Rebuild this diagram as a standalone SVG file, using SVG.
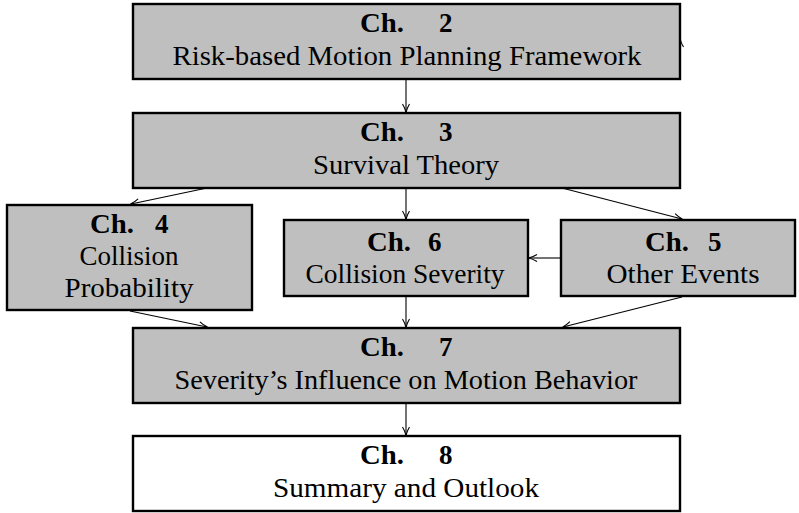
<svg xmlns="http://www.w3.org/2000/svg" width="799" height="513" viewBox="0 0 799 513">
<style>
.box{fill:#bfbfbf;stroke:#000;stroke-width:2.4}
.wbox{fill:#fff;stroke:#000;stroke-width:2.4}
text{font-family:"Liberation Serif","DejaVu Serif",serif;font-size:27px;fill:#000;text-anchor:middle}
.b{font-weight:bold;text-anchor:start}
.c line{stroke:#000;stroke-width:1.1;marker-end:url(#ah)}
</style>
<defs>
<marker id="ah" viewBox="0 0 10 10" refX="9" refY="5" markerWidth="10" markerHeight="10" markerUnits="userSpaceOnUse" orient="auto">
<path d="M1,1.5 Q5,4 9.5,5 Q5,6 1,8.5" fill="none" stroke="#000" stroke-width="1.1"/>
</marker>
</defs>
<g class="c">
<line x1="406" y1="79" x2="406" y2="112"/>
<line x1="406" y1="188" x2="406" y2="219"/>
<line x1="207" y1="188" x2="131" y2="204"/>
<line x1="562" y1="188" x2="682" y2="219"/>
<line x1="560" y1="258" x2="529" y2="258"/>
<line x1="130" y1="311" x2="207" y2="327"/>
<line x1="406" y1="297" x2="406" y2="327"/>
<line x1="682" y1="297" x2="563" y2="327"/>
<line x1="406" y1="404" x2="406" y2="435"/>
<line x1="680" y1="48" x2="680" y2="39"/>
</g>
<g id="n2"><rect class="box" x="133" y="4" width="547" height="75"/>
<text class="b" x="360" y="32" textLength="44" lengthAdjust="spacingAndGlyphs">Ch.</text><text class="b" x="439" y="32">2</text>
<text x="407" y="65" textLength="469" lengthAdjust="spacingAndGlyphs">Risk-based Motion Planning Framework</text></g>
<g id="n3"><rect class="box" x="133" y="113" width="547" height="75"/>
<text class="b" x="360" y="141" textLength="44" lengthAdjust="spacingAndGlyphs">Ch.</text><text class="b" x="439" y="141">3</text>
<text x="406" y="174" textLength="186" lengthAdjust="spacingAndGlyphs">Survival Theory</text></g>
<g id="n4"><rect class="box" x="7" y="205" width="245" height="105"/>
<text class="b" x="90" y="233" textLength="44" lengthAdjust="spacingAndGlyphs">Ch.</text><text class="b" x="155" y="233">4</text>
<text x="129" y="265" textLength="99" lengthAdjust="spacingAndGlyphs">Collision</text>
<text x="129" y="297" textLength="129" lengthAdjust="spacingAndGlyphs">Probability</text></g>
<g id="n6"><rect class="box" x="284" y="220" width="244" height="76"/>
<text class="b" x="367" y="251" textLength="44" lengthAdjust="spacingAndGlyphs">Ch.</text><text class="b" x="428" y="251">6</text>
<text x="405" y="283" textLength="199" lengthAdjust="spacingAndGlyphs">Collision Severity</text></g>
<g id="n5"><rect class="box" x="561" y="220" width="234" height="76"/>
<text class="b" x="645" y="251" textLength="44" lengthAdjust="spacingAndGlyphs">Ch.</text><text class="b" x="708" y="251">5</text>
<text x="683" y="283" textLength="153" lengthAdjust="spacingAndGlyphs">Other Events</text></g>
<g id="n7"><rect class="box" x="133" y="328" width="547" height="75"/>
<text class="b" x="360" y="356" textLength="44" lengthAdjust="spacingAndGlyphs">Ch.</text><text class="b" x="439" y="356">7</text>
<text x="406" y="389" textLength="463" lengthAdjust="spacingAndGlyphs">Severity’s Influence on Motion Behavior</text></g>
<g id="n8"><rect class="wbox" x="133" y="436" width="547" height="75"/>
<text class="b" x="360" y="464" textLength="44" lengthAdjust="spacingAndGlyphs">Ch.</text><text class="b" x="439" y="464">8</text>
<text x="406" y="497" textLength="266" lengthAdjust="spacingAndGlyphs">Summary and Outlook</text></g>
</svg>
